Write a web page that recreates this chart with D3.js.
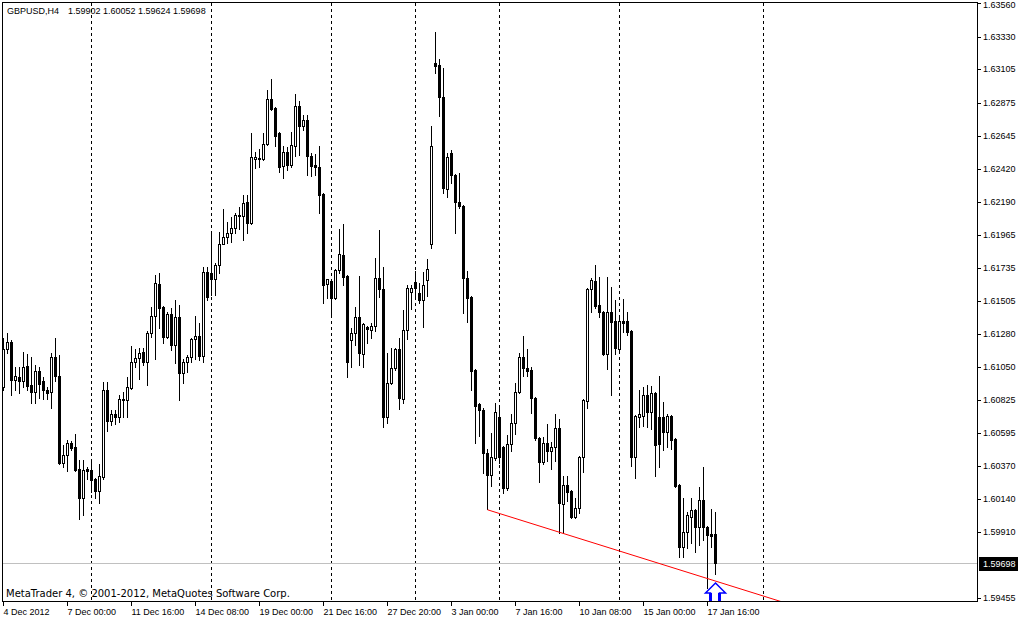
<!DOCTYPE html>
<html><head><meta charset="utf-8">
<script src="https://cdn.jsdelivr.net/npm/d3@7"></script>
<style>
html,body{margin:0;padding:0;background:#fff;}
svg{display:block;}
</style></head><body>
<svg id="c" width="1018" height="619"></svg>
<script>
const symbol = "GBPUSD,H4";
const opens = [
1.60914,1.61176,1.61224,1.60962,1.60983,1.60955,1.61059,1.60928,1.60879,1.61024,
1.60955,1.60893,1.60879,1.61121,1.60990,1.60389,1.60445,1.60527,1.60500,1.60348,
1.60148,1.60348,1.60341,1.60279,1.60196,1.60293,1.60893,1.60679,1.60727,1.60707,
1.60831,1.60824,1.60907,1.61086,1.61114,1.61155,1.61086,1.61286,1.61404,1.61624,
1.61466,1.61259,1.61417,1.61204,1.61397,1.61010,1.61086,1.61121,1.61245,1.61266,
1.61128,1.61707,1.61700,1.61659,1.61756,1.61900,1.61949,1.61976,1.62011,1.62101,
1.62094,1.62190,1.62045,1.62487,1.62494,1.62487,1.62590,1.62901,1.62839,1.62666,
1.62439,1.62535,1.62446,1.62577,1.62853,1.62715,1.62756,1.62508,1.62446,1.62432,
1.62245,1.61624,1.61645,1.61528,1.61721,1.61825,1.61680,1.61238,1.61286,1.61397,
1.61141,1.61328,1.61307,1.61335,1.61666,1.61590,1.60707,1.60941,1.61045,1.61176,
1.60831,1.61307,1.61569,1.61638,1.61562,1.61514,1.61652,1.61900,1.63149,1.63136,
1.62915,1.62280,1.62528,1.62377,1.62190,1.62163,1.61666,1.61535,1.61031,1.60796,
1.60755,1.60458,1.60307,1.60424,1.60707,1.60500,1.60217,1.60520,1.60665,1.60879,
1.61121,1.61045,1.61031,1.60838,1.60562,1.60396,1.60527,1.60472,1.60500,1.60631,
1.60106,1.60238,1.60196,1.60017,1.60079,1.60431,1.60817,1.61590,1.61645,1.61480,
1.61431,1.61141,1.61431,1.61369,1.61176,1.61369,1.61369,1.61300,1.60431,1.60707,
1.60714,1.60859,1.60741,1.60872,1.60707,1.60707,1.60603,1.60714,1.60555,1.60238,
1.59810,1.59913,1.60017,1.60065,1.59948,1.60134,1.59948,1.59899,1.59902];
const highs = [
1.61252,1.61286,1.61238,1.61052,1.61052,1.61155,1.61141,1.61121,1.61066,1.61052,
1.60983,1.60914,1.61148,1.61252,1.61135,1.60514,1.60548,1.60541,1.60589,1.60410,
1.60410,1.60362,1.60410,1.60286,1.60382,1.60948,1.60948,1.60755,1.60755,1.60859,
1.60879,1.60983,1.61197,1.61176,1.61183,1.61183,1.61300,1.61466,1.61687,1.61700,
1.61473,1.61431,1.61459,1.61514,1.61480,1.61107,1.61135,1.61252,1.61404,1.61355,
1.61742,1.61742,1.61969,1.61769,1.61983,1.62142,1.62052,1.62087,1.62114,1.62156,
1.62239,1.62239,1.62666,1.62535,1.62556,1.62666,1.62963,1.63039,1.62846,1.62673,
1.62577,1.62570,1.62673,1.62935,1.62887,1.62791,1.62791,1.62528,1.62521,1.62577,
1.62252,1.61659,1.61652,1.61728,1.62004,1.62038,1.61687,1.61321,1.61466,1.61680,
1.61355,1.61335,1.61355,1.61804,1.61997,1.61742,1.61148,1.61183,1.61183,1.61252,
1.61445,1.61618,1.61618,1.61714,1.61631,1.61707,1.61797,1.62715,1.63363,1.63177,
1.63115,1.62528,1.62549,1.62383,1.62390,1.62170,1.61714,1.61542,1.61038,1.60803,
1.60769,1.60486,1.60596,1.60803,1.60790,1.60507,1.60583,1.60727,1.60941,1.61148,
1.61266,1.61176,1.61052,1.60845,1.60569,1.60569,1.60658,1.60534,1.60727,1.60693,
1.60300,1.60300,1.60203,1.60148,1.60438,1.60831,1.61597,1.61666,1.61756,1.61673,
1.61438,1.61673,1.61604,1.61514,1.61404,1.61521,1.61431,1.61307,1.60721,1.60893,
1.60914,1.60928,1.60921,1.60879,1.60990,1.60810,1.60727,1.60721,1.60562,1.60244,
1.60148,1.60051,1.60148,1.60072,1.60224,1.60362,1.59955,1.60072,1.60052];
const lows = [
1.60893,1.61148,1.60859,1.60893,1.60872,1.60914,1.60893,1.60803,1.60803,1.60838,
1.60831,1.60831,1.60769,1.60955,1.60382,1.60362,1.60334,1.60479,1.60334,1.60003,
1.60031,1.60279,1.60189,1.60148,1.60113,1.60279,1.60610,1.60652,1.60658,1.60672,
1.60707,1.60707,1.60900,1.61052,1.60969,1.61066,1.60928,1.61259,1.61107,1.61321,
1.61217,1.61252,1.61169,1.61079,1.60824,1.60941,1.61017,1.61086,1.61107,1.61100,
1.61086,1.61514,1.61549,1.61549,1.61700,1.61900,1.61907,1.61914,1.61976,1.62004,
1.61928,1.61976,1.62038,1.62425,1.62432,1.62480,1.62584,1.62825,1.62577,1.62397,
1.62356,1.62411,1.62432,1.62508,1.62515,1.62687,1.62377,1.62370,1.62377,1.62114,
1.61493,1.61528,1.61397,1.61521,1.61700,1.61618,1.60983,1.61052,1.61204,1.61066,
1.61052,1.61217,1.61252,1.61300,1.61535,1.60638,1.60665,1.60934,1.61031,1.60762,
1.60803,1.61245,1.61452,1.61528,1.61493,1.61328,1.61542,1.61873,1.63080,1.62784,
1.62252,1.62225,1.62321,1.61976,1.62149,1.61424,1.61362,1.60893,1.60527,1.60576,
1.60320,1.60072,1.60231,1.60410,1.60389,1.60182,1.60203,1.60472,1.60589,1.60872,
1.60990,1.60990,1.60734,1.60548,1.60258,1.60382,1.60403,1.60348,1.60403,1.59906,
1.59906,1.60127,1.60010,1.60010,1.60044,1.60327,1.60769,1.61431,1.61459,1.61397,
1.61135,1.61038,1.60859,1.61141,1.61169,1.61293,1.61273,1.60369,1.60286,1.60638,
1.60645,1.60638,1.60624,1.60300,1.60362,1.60479,1.60500,1.60486,1.60224,1.59741,
1.59741,1.59803,1.59837,1.59775,1.59824,1.59858,1.59527,1.59810,1.59624];
const closes = [
1.61176,1.61224,1.60962,1.60990,1.60955,1.61052,1.60921,1.60879,1.61024,1.60934,
1.60893,1.60872,1.61121,1.60990,1.60389,1.60445,1.60527,1.60493,1.60341,1.60148,
1.60341,1.60334,1.60272,1.60196,1.60300,1.60893,1.60679,1.60727,1.60707,1.60831,
1.60824,1.60914,1.61086,1.61114,1.61148,1.61086,1.61286,1.61404,1.61631,1.61459,
1.61259,1.61417,1.61204,1.61397,1.61010,1.61086,1.61121,1.61245,1.61266,1.61128,
1.61707,1.61535,1.61659,1.61756,1.61900,1.61949,1.61976,1.62011,1.62101,1.62094,
1.62183,1.62045,1.62501,1.62501,1.62487,1.62590,1.62901,1.62832,1.62646,1.62432,
1.62535,1.62446,1.62584,1.62853,1.62715,1.62756,1.62508,1.62439,1.62432,1.62239,
1.61618,1.61659,1.61528,1.61721,1.61831,1.61673,1.61086,1.61286,1.61397,1.61148,
1.61348,1.61314,1.61335,1.61666,1.61590,1.60707,1.60941,1.61045,1.61176,1.60838,
1.61307,1.61597,1.61597,1.61597,1.61514,1.61618,1.61728,1.62577,1.63129,1.62915,
1.62287,1.62501,1.62377,1.62190,1.62163,1.61666,1.61528,1.61024,1.60783,1.60755,
1.60458,1.60307,1.60431,1.60741,1.60431,1.60217,1.60520,1.60665,1.60879,1.61121,
1.61045,1.61024,1.60838,1.60562,1.60396,1.60527,1.60472,1.60500,1.60631,1.60113,
1.60238,1.60189,1.60017,1.60079,1.60431,1.60824,1.61590,1.61652,1.61473,1.61431,
1.61141,1.61431,1.61362,1.61183,1.61369,1.61355,1.61293,1.60431,1.60714,1.60727,
1.60859,1.60741,1.60872,1.60514,1.60520,1.60603,1.60714,1.60548,1.60231,1.59810,
1.59913,1.60031,1.60065,1.59948,1.60134,1.59948,1.59893,1.59886,1.59698];
const priceTicks = [1.63560,1.63330,1.63105,1.62875,1.62645,1.62420,1.62190,1.61965,1.61735,1.61505,1.61280,1.61050,1.60825,1.60595,1.60370,1.60140,1.59910,1.59455];
const timeLabels = ["4 Dec 2012","7 Dec 00:00","11 Dec 16:00","14 Dec 08:00","19 Dec 00:00","21 Dec 16:00","27 Dec 20:00","3 Jan 00:00","7 Jan 16:00","10 Jan 08:00","15 Jan 00:00","17 Jan 16:00"];
const timeLabelBars = [0,16,32,48,64,80,96,112,128,144,160,176];
const separatorBars = [22,52,82,103,124,154,190];
const trendBars = [121,140];
const trendPrices = [1.60070,1.59906];
const arrowBar = 178;
const arrowPrice = 1.59560;
const copyright = "MetaTrader 4, \u00A9 2001-2012, MetaQuotes Software Corp.";

const FONT = "'Liberation Sans', Arial, sans-serif";
const plot = {left:2, top:2, right:977, bottom:601};
const n = opens.length;
const bid = closes[n-1];

const svg = d3.select("#c");
const x = d3.scaleLinear().domain([0,1]).range([3,7]);
const yRaw = d3.scaleLinear().domain([1.59455,1.63560]).range([598.4,3.48]);
const y = yRaw.copy().interpolate(d3.interpolateRound);

svg.append("defs").append("clipPath").attr("id","clip")
  .append("rect").attr("x",plot.left+1).attr("y",plot.top+1)
  .attr("width",plot.right-plot.left-1).attr("height",plot.bottom-plot.top-1);

svg.append("rect").attr("width",1018).attr("height",619).attr("fill","#fff");

const pg = svg.append("g").attr("clip-path","url(#clip)");

// period separators
pg.selectAll("line.sep").data(separatorBars).join("line")
  .attr("x1",d=>x(d)+0.5).attr("x2",d=>x(d)+0.5)
  .attr("y1",plot.top+1).attr("y2",plot.bottom)
  .attr("stroke","#000").attr("stroke-width",1).attr("stroke-dasharray","3,3");

// bid line
pg.append("line").attr("x1",plot.left+1).attr("x2",plot.right)
  .attr("y1",y(bid)+0.5).attr("y2",y(bid)+0.5)
  .attr("stroke","#c0c0c0").attr("stroke-width",1);

// candles
const data = d3.range(n).map(i=>({i,o:opens[i],h:highs[i],l:lows[i],c:closes[i]}));
const cg = pg.append("g").attr("shape-rendering","crispEdges")
  .selectAll("g").data(data).join("g");
cg.append("rect").attr("x",d=>x(d.i)).attr("y",d=>y(d.h))
  .attr("width",1).attr("height",d=>y(d.l)-y(d.h)+1).attr("fill","#000");
cg.append("rect").attr("x",d=>x(d.i)-1).attr("y",d=>y(Math.max(d.o,d.c)))
  .attr("width",3).attr("height",d=>y(Math.min(d.o,d.c))-y(Math.max(d.o,d.c))+1).attr("fill","#000");
cg.filter(d=>d.c>d.o && y(d.o)-y(d.c)>1).append("rect")
  .attr("x",d=>x(d.i)).attr("y",d=>y(d.c)+1)
  .attr("width",1).attr("height",d=>y(d.o)-y(d.c)-1).attr("fill","#fff");

// trend line (ray)
const slope = (trendPrices[1]-trendPrices[0])/(trendBars[1]-trendBars[0]);
const endBar = x.invert(plot.right);
pg.append("line")
  .attr("x1",x(trendBars[0])+0.5).attr("y1",yRaw(trendPrices[0])+0.5)
  .attr("x2",x(endBar)+0.5).attr("y2",yRaw(trendPrices[0]+slope*(endBar-trendBars[0]))+0.5)
  .attr("stroke","#ff0000").attr("stroke-width",1);

// arrow
const ax0 = x(arrowBar)+0.5, ay0 = y(arrowPrice);
pg.append("path")
  .attr("d",`M${ax0-5},${ay0+22} L${ax0-5},${ay0+10} L${ax0-10},${ay0+10} L${ax0},${ay0} L${ax0+10},${ay0+10} L${ax0+4},${ay0+10} L${ax0+4},${ay0+22}`)
  .attr("fill","#fff").attr("stroke","#0000ff").attr("stroke-width",1.5).attr("stroke-linejoin","miter");
pg.append("rect").attr("x",ax0-6.5).attr("y",ay0+10).attr("width",3).attr("height",12).attr("fill","#0000ff");
pg.append("rect").attr("x",ax0+2.5).attr("y",ay0+10).attr("width",3).attr("height",12).attr("fill","#0000ff");

// frame
svg.append("rect").attr("x",plot.left+0.5).attr("y",plot.top+0.5)
  .attr("width",plot.right-plot.left).attr("height",plot.bottom-plot.top)
  .attr("fill","none").attr("stroke","#000").attr("stroke-width",1);

// right price axis
const ra = svg.append("g").attr("transform",`translate(${plot.right},0)`)
  .call(d3.axisRight(y).tickValues(priceTicks).tickSize(4).tickPadding(2).tickFormat(d3.format(".5f")));
ra.select(".domain").remove();
ra.attr("font-family",FONT).attr("font-size",9);
ra.selectAll("line").attr("stroke","#000");
ra.selectAll("text").attr("fill","#000").attr("y",d=>Math.max(0, 5 - (y(d)+0.5)));

// bid label
svg.append("rect").attr("x",plot.right+2).attr("y",y(bid)-6).attr("width",39).attr("height",14).attr("fill","#000");
svg.append("text").attr("x",plot.right+6).attr("y",y(bid)+0.5).attr("dy","0.35em")
  .attr("font-family",FONT).attr("font-size",9).attr("fill","#fff").text(d3.format(".5f")(bid));

// bottom time axis
const ba = svg.append("g").attr("transform",`translate(0,${plot.bottom+1})`)
  .call(d3.axisBottom(x).tickValues(timeLabelBars).tickSize(4).tickFormat((d,i)=>timeLabels[i]));
ba.select(".domain").remove();
ba.attr("font-family",FONT).attr("font-size",9);
ba.selectAll("line").attr("stroke","#000");
ba.selectAll("text").attr("fill","#000").attr("text-anchor","start").attr("y",13).attr("dy",0).attr("x",0);

// header
svg.append("text").attr("x",7).attr("y",14).attr("font-family",FONT).attr("font-size",9).text(symbol);
svg.append("text").attr("x",68).attr("y",14).attr("font-family",FONT).attr("font-size",9)
  .text([opens[n-1],highs[n-1],lows[n-1],closes[n-1]].map(d3.format(".5f")).join(" "));

// copyright
svg.append("text").attr("x",6).attr("y",597).attr("font-family","'DejaVu Sans', sans-serif").attr("font-size",10).text(copyright);
</script>
</body></html>
